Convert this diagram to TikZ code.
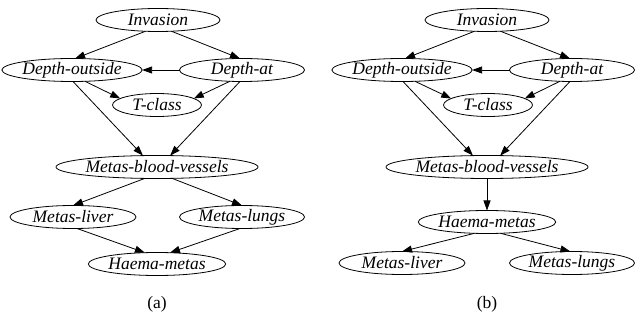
\documentclass[tikz,border=0pt]{standalone}
\usepackage{fontspec}
\setmainfont{Liberation Serif}
\usetikzlibrary{arrows.meta,shapes.geometric}
\begin{document}
\begin{tikzpicture}[x=1pt,y=-1pt,
  var/.style={draw,ellipse,line width=0.8pt,inner sep=0pt,outer sep=0pt,
    minimum height=23,font=\fontsize{17.5}{20}\selectfont\itshape},
  edge/.style={line width=0.8pt,-{Triangle[length=10pt,width=7pt]}},
  sublabel/.style={font=\fontsize{17.5}{20}\selectfont}]
\useasboundingbox (0,0) rectangle (642,320);

% ---- network (a)
\node[var,minimum width=124] (ai)  at (158,20)  {Invasion};
\node[var,minimum width=125] (ado) at (72,70)   {Depth-outside};
\node[var,minimum width=125] (ada) at (242,70)  {Depth-at};
\node[var,minimum width=89]  (atc) at (157,105) {T-class};
\node[var,minimum width=199] (amb) at (157,167) {Metas-blood-vessels};
\node[var,minimum width=126] (aml) at (73,217)  {Metas-liver};
\node[var,minimum width=125] (alu) at (242,217) {Metas-lungs};
\node[var,minimum width=125] (ahm) at (157,264) {Haema-metas};
\node[sublabel] (alab) at (157,304) {(a)};

\draw[edge] (ai.222) -- (ado.75);
\draw[edge] (ai.320) -- (ada.100);
\draw[edge] (ada.west) -- (ado.east);
\draw[edge] (ado.319) -- (atc.170);
\draw[edge] (ada.223) -- (atc.10);
\draw[edge] (ado.275) -- (amb.141);
\draw[edge] (ada.260) -- (amb.41);
\draw[edge] (amb.223) -- (aml.north);
\draw[edge] (amb.323) -- (alu.north);
\draw[edge] (aml.289) -- (ahm.137);
\draw[edge] (alu.260) -- (ahm.41);

% ---- network (b)
\node[var,minimum width=124] (bi)  at (487,20)  {Invasion};
\node[var,minimum width=125] (bdo) at (402,70)  {Depth-outside};
\node[var,minimum width=125] (bda) at (572,70)  {Depth-at};
\node[var,minimum width=89]  (btc) at (488,105) {T-class};
\node[var,minimum width=199] (bmb) at (487,167) {Metas-blood-vessels};
\node[var,minimum width=127] (bhm) at (487,222) {Haema-metas};
\node[var,minimum width=126] (bml) at (402,263) {Metas-liver};
\node[var,minimum width=125] (blu) at (572,263) {Metas-lungs};
\node[sublabel] (blab) at (487,304) {(b)};

\draw[edge] (bi.222) -- (bdo.75);
\draw[edge] (bi.320) -- (bda.100);
\draw[edge] (bda.west) -- (bdo.east);
\draw[edge] (bdo.319) -- (btc.170);
\draw[edge] (bda.223) -- (btc.10);
\draw[edge] (bdo.275) -- (bmb.141);
\draw[edge] (bda.260) -- (bmb.41);
\draw[edge] (bmb.south) -- (bhm.north);
\draw[edge] (bhm.222) -- (bml.north);
\draw[edge] (bhm.320) -- (blu.98);
\end{tikzpicture}
\end{document}
